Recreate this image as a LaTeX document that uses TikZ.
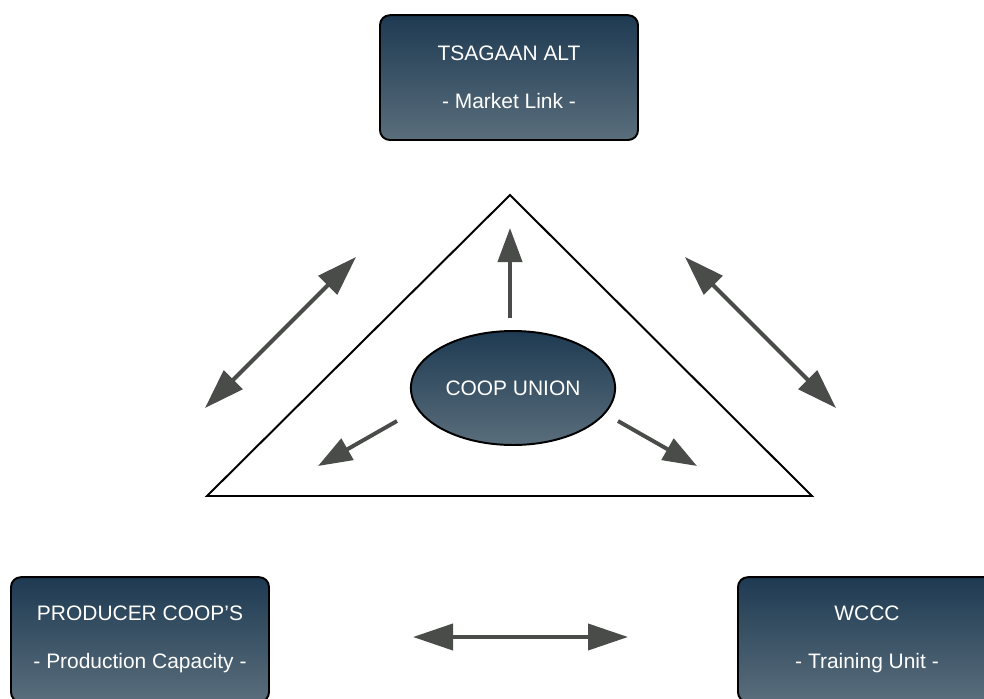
\documentclass[tikz,border=0pt]{standalone}
\usepackage{fontspec}
\setmainfont{Liberation Sans}
\usetikzlibrary{positioning,shapes.geometric,arrows.meta}

\definecolor{boxtop}{HTML}{1E3A52}
\definecolor{boxbot}{HTML}{5A6E7C}
\definecolor{arrowgray}{HTML}{4A4C4A}

\tikzset{
  partner/.style={draw=black, line width=1.4pt, rounded corners=7pt,
    top color=boxtop, bottom color=boxbot, text=white, align=center,
    minimum width=6.45cm, minimum height=3.12cm,
    font=\fontsize{14.9}{34}\selectfont},
  union/.style={ellipse, draw=black, line width=1.4pt,
    top color=boxtop, bottom color=boxbot, text=white,
    minimum width=5.1cm, minimum height=2.85cm,
    font=\fontsize{14.9}{18}\selectfont},
  link/.style={arrowgray, line width=2.8pt,
    {Triangle[length=1cm,width=0.65cm]}-{Triangle[length=1cm,width=0.65cm]}},
  flow/.style={arrowgray, line width=2.8pt, -{Triangle[length=0.85cm,width=0.6cm]}},
}

\begin{document}
\begin{tikzpicture}
    \useasboundingbox (0,0) rectangle (24.6,17.45);
    \clip (0,0) rectangle (24.6,17.45);
    % Triangle
    \coordinate (apex) at (12.75,12.575);
    \coordinate (baseleft) at (5.175,5.05);
    \coordinate (baseright) at (20.3,5.05);
    \draw[line width=1.4pt] (apex) -- (baseleft) -- (baseright) -- cycle;

    % Nodes
    \node[partner] (tsagaan) at (12.725,15.51) {TSAGAAN ALT\\- Market Link -};
    \node[partner] (producer) at (3.5,1.46) {PRODUCER COOP'S\\- Production Capacity -};
    \node[partner] (wccc) at (21.675,1.46) {WCCC\\- Training Unit -};
    \node[union] (union) at (12.825,7.75) {COOP UNION};

    % Arrow ends
    \coordinate (upfrom) at (12.75,9.5);
    \coordinate (upto) at (12.75,11.75);
    \coordinate (leftfrom) at (9.925,6.925);
    \coordinate (leftto) at (7.95,5.8);
    \coordinate (rightfrom) at (15.45,6.925);
    \coordinate (rightto) at (17.425,5.8);
    \coordinate (nwlow) at (5.125,7.25);
    \coordinate (nwhigh) at (8.9,11.025);
    \coordinate (nehigh) at (17.125,11.025);
    \coordinate (nelow) at (20.9,7.25);
    \coordinate (botleft) at (10.325,1.525);
    \coordinate (botright) at (15.7,1.525);

    % Arrows
    \draw[flow] (upfrom) -- (upto);
    \draw[flow] (leftfrom) -- (leftto);
    \draw[flow] (rightfrom) -- (rightto);
    \draw[link] (nwlow) -- (nwhigh);
    \draw[link] (nehigh) -- (nelow);
    \draw[link] (botleft) -- (botright);
\end{tikzpicture}
\end{document}
